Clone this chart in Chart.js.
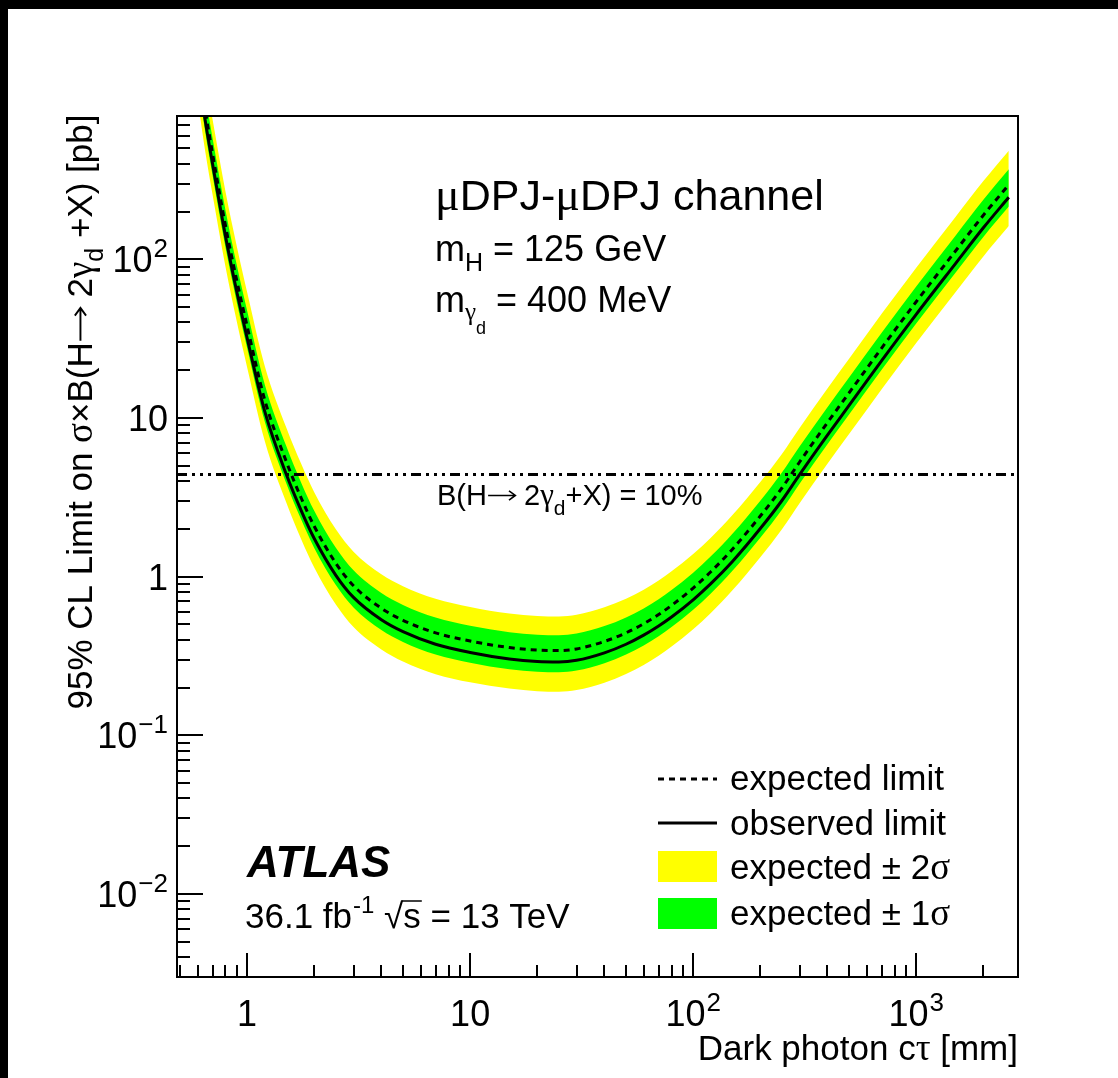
<!DOCTYPE html>
<html>
<head>
<meta charset="utf-8">
<script src="https://cdn.jsdelivr.net/npm/chart.js@4.4.1/dist/chart.umd.min.js"></script>
<style>
  html, body { margin: 0; padding: 0; background: #ffffff; }
  canvas { display: block; }
</style>
</head>
<body>
<canvas id="c" width="1118" height="1078"></canvas>
<script>
// Dark photon decay length (mm)
const ctau = [0.6, 0.65, 0.7, 0.8, 0.9, 1, 1.2, 1.5, 1.75, 2, 2.5, 3, 4, 5, 7, 10, 15, 20, 25, 30,
              40, 50, 60, 70, 80, 100, 120, 150, 200, 250, 300, 400, 500, 700, 1000, 1500, 2000, 2600];
// 95% CL upper limits on sigma x B (pb)
const observed = [1600, 740, 400, 140, 62, 32, 11, 4.4, 2.6, 1.74, 1.02, 0.74, 0.535, 0.45, 0.375, 0.333, 0.303, 0.292, 0.290, 0.297,
                  0.331, 0.375, 0.428, 0.489, 0.557, 0.715, 0.903, 1.247, 2.01, 3.02, 4.4, 7.8, 12, 23, 45, 94, 158, 246];
const expected = [1850, 860, 465, 163, 73, 38, 13, 5.3, 3.12, 2.08, 1.215, 0.877, 0.632, 0.531, 0.4425, 0.393, 0.3575, 0.3446, 0.3422, 0.3505,
                  0.3906, 0.4425, 0.505, 0.577, 0.659, 0.848, 1.074, 1.49, 2.41, 3.62, 5.28, 9.36, 14.4, 27.6, 54, 112.8, 189.6, 295];
const expPlus2 = [3034, 1410, 763, 267, 120, 62.3, 21.3, 8.69, 5.12, 3.41, 1.99, 1.438, 1.036, 0.871, 0.726, 0.645, 0.586, 0.565, 0.561, 0.575,
                  0.641, 0.726, 0.828, 0.946, 1.081, 1.391, 1.761, 2.444, 3.95, 5.94, 8.66, 15.35, 23.6, 45.3, 88.6, 185, 311, 484];
const expPlus1 = [2312, 1075, 581, 204, 91.3, 47.5, 16.25, 6.63, 3.9, 2.6, 1.519, 1.096, 0.79, 0.664, 0.553, 0.491, 0.447, 0.431, 0.428, 0.438,
                  0.488, 0.553, 0.631, 0.721, 0.824, 1.06, 1.343, 1.863, 3.01, 4.53, 6.6, 11.7, 18, 34.5, 67.5, 141, 237, 369];
const expMinus1 = [1350, 628, 339, 119, 53.3, 27.7, 9.49, 3.87, 2.28, 1.518, 0.887, 0.64, 0.461, 0.388, 0.323, 0.287, 0.261, 0.2516, 0.2498, 0.2559,
                   0.2851, 0.323, 0.3687, 0.421, 0.481, 0.619, 0.784, 1.088, 1.759, 2.643, 3.854, 6.83, 10.5, 20.1, 39.4, 82.3, 138.4, 215];
const expMinus2 = [1018, 473, 256, 89.7, 40.2, 20.9, 7.15, 2.92, 1.716, 1.144, 0.668, 0.482, 0.348, 0.292, 0.243, 0.216, 0.197, 0.1895, 0.1882, 0.1928,
                   0.2148, 0.2434, 0.2778, 0.3174, 0.3625, 0.466, 0.591, 0.82, 1.326, 1.991, 2.904, 5.15, 7.92, 15.2, 29.7, 62, 104.3, 162];
// sigma x B for B(H -> 2 gamma_d + X) = 10%
const refLimit = 4.4;

// axis ranges and tick labels
const xRange = [0.485, 2860];
const yRange = [0.003, 800];
const xMajorTicks = [1, 10, 100, 1000];
const xTickLabels = [['1', ''], ['10', ''], ['10', '2'], ['10', '3']];
const yMajorTicks = [0.01, 0.1, 1, 10, 100];
const yTickLabels = [['10', '\u22122'], ['10', '\u22121'], ['1', ''], ['10', ''], ['10', '2']];

const SANS = '"Liberation Sans", Arial, Helvetica, sans-serif';
const GREEK = '"Liberation Serif", "Times New Roman", serif';

const pts = ys => ctau.map((x, i) => ({ x: x, y: ys[i] }));

function fontOf(p) {
  return (p.style || 'normal') + ' ' + (p.weight || 'normal') + ' ' + p.size + 'px ' + (p.fam || SANS);
}
// draws a run of text pieces (sub/superscripts, symbol glyphs, arrows) starting at x
function rich(ctx, x, y, parts, align) {
  let w = 0;
  parts.forEach(p => {
    if (p.arrow) {
      p.w = p.size * 1.0;
    } else {
      ctx.font = fontOf(p);
      p.w = ctx.measureText(p.t).width + (p.dx || 0);
    }
    w += p.w;
  });
  let cx = align === 'right' ? x - w : (align === 'center' ? x - w / 2 : x);
  parts.forEach(p => {
    p.x0 = cx + (p.dx || 0);
    if (p.arrow) {
      const s = p.size, ay = y - s * 0.33;
      const x1 = cx + s * 0.04, x2 = cx + p.w - s * 0.02;
      ctx.save();
      ctx.lineWidth = Math.max(1.5, s * 0.055);
      ctx.lineCap = 'butt';
      ctx.beginPath();
      ctx.moveTo(x1, ay); ctx.lineTo(x2, ay);
      ctx.moveTo(x2 - s * 0.22, ay - s * 0.16); ctx.lineTo(x2, ay); ctx.lineTo(x2 - s * 0.22, ay + s * 0.16);
      ctx.stroke();
      ctx.restore();
    } else {
      ctx.font = fontOf(p);
      ctx.fillText(p.t, p.x0, y + (p.dy || 0));
    }
    cx += p.w;
  });
  return parts;
}

const axisDecor = {
  id: 'axisDecor',
  beforeDraw(chart) {
    const ctx = chart.ctx;
    ctx.save();
    ctx.fillStyle = '#000';
    ctx.fillRect(0, 0, chart.width, 9);
    ctx.fillRect(0, 0, 8, chart.height);
    ctx.restore();
  },
  afterDraw(chart) {
    const ctx = chart.ctx;
    const xs = chart.scales.x, ys = chart.scales.y;
    const a = chart.chartArea;
    ctx.save();
    ctx.fillStyle = '#000';
    ctx.strokeStyle = '#000';
    ctx.textBaseline = 'alphabetic';

    // frame
    ctx.lineWidth = 2;
    ctx.strokeRect(a.left, a.top, a.right - a.left, a.bottom - a.top);

    // x ticks
    for (let e = -1; e <= 3; e++) {
      for (let m = 1; m <= 9; m++) {
        const v = m * Math.pow(10, e);
        if (v < xRange[0] || v > xRange[1]) continue;
        const px = Math.round(xs.getPixelForValue(v));
        const len = m === 1 ? 24 : 12;
        ctx.beginPath();
        ctx.moveTo(px, a.bottom);
        ctx.lineTo(px, a.bottom - len);
        ctx.stroke();
      }
    }
    // y ticks
    for (let e = -3; e <= 2; e++) {
      for (let m = 1; m <= 9; m++) {
        const v = m * Math.pow(10, e);
        if (v < yRange[0] || v > yRange[1]) continue;
        const py = Math.round(ys.getPixelForValue(v));
        const len = m === 1 ? 26 : 13;
        ctx.beginPath();
        ctx.moveTo(a.left, py);
        ctx.lineTo(a.left + len, py);
        ctx.stroke();
      }
    }

    // x tick labels
    xMajorTicks.forEach((v, i) => {
      const px = xs.getPixelForValue(v);
      const lab = xTickLabels[i];
      const parts = [{ t: lab[0], size: 36 }];
      if (lab[1]) parts.push({ t: lab[1], size: 26, dy: -15, dx: 1 });
      rich(ctx, px, 1026, parts, 'center');
    });
    // y tick labels
    yMajorTicks.forEach((v, i) => {
      const py = ys.getPixelForValue(v);
      const lab = yTickLabels[i];
      const parts = [{ t: lab[0], size: 36 }];
      if (lab[1]) parts.push({ t: lab[1], size: 26, dy: -15, dx: 1 });
      rich(ctx, 168, py + 13, parts, 'right');
    });

    // x axis title
    rich(ctx, 1018, 1060, [
      { t: 'Dark photon c', size: 35 },
      { t: '\u03c4', size: 37, fam: GREEK },
      { t: ' [mm]', size: 35 }
    ], 'right');

    // y axis title
    ctx.save();
    ctx.translate(92, 412);
    ctx.rotate(-Math.PI / 2);
    rich(ctx, 0, 0, [
      { t: '95% CL Limit on ', size: 35 },
      { t: '\u03c3', size: 37, fam: GREEK },
      { t: '\u00d7', size: 35 },
      { t: 'B(H', size: 35 },
      { arrow: true, size: 35 },
      { t: ' 2', size: 35 },
      { t: '\u03b3', size: 37, fam: GREEK },
      { t: 'd', size: 25, dy: 11 },
      { t: ' +X) [pb]', size: 35 }
    ], 'center');
    ctx.restore();

    // channel and mass labels
    rich(ctx, 435, 210, [
      { t: '\u03bc', size: 46, fam: GREEK },
      { t: 'DPJ-', size: 43 },
      { t: '\u03bc', size: 46, fam: GREEK },
      { t: 'DPJ channel', size: 43 }
    ], 'left');
    rich(ctx, 435, 261, [
      { t: 'm', size: 36 },
      { t: 'H', size: 25, dy: 10 },
      { t: ' = 125 GeV', size: 36 }
    ], 'left');
    rich(ctx, 435, 312, [
      { t: 'm', size: 36 },
      { t: '\u03b3', size: 25, dy: 8, fam: GREEK },
      { t: 'd', size: 18, dy: 22 },
      { t: ' = 400 MeV', size: 36 }
    ], 'left');

    // reference line label
    rich(ctx, 437, 505, [
      { t: 'B(H', size: 29 },
      { arrow: true, size: 29 },
      { t: ' 2', size: 29 },
      { t: '\u03b3', size: 31, fam: GREEK },
      { t: 'd', size: 21, dy: 10 },
      { t: '+X) = 10%', size: 29 }
    ], 'left');

    // ATLAS label
    rich(ctx, 247, 877, [{ t: 'ATLAS', size: 44, weight: 'bold', style: 'italic' }], 'left');
    const lum = rich(ctx, 245, 928, [
      { t: '36.1 fb', size: 35 },
      { t: '-1', size: 24, dy: -15, dx: 1 },
      { t: ' ', size: 35 },
      { t: '\u221a', size: 35 },
      { t: 's', size: 35 },
      { t: ' = 13 TeV', size: 35 }
    ], 'left');
    // overline of the square root
    ctx.lineWidth = 1.5;
    ctx.beginPath();
    ctx.moveTo(lum[3].x0 + lum[3].w - 2, 901);
    ctx.lineTo(lum[4].x0 + lum[4].w + 1, 901);
    ctx.stroke();

    // legend
    const lx0 = 658, lx1 = 717, tx = 730;
    ctx.lineWidth = 3;
    ctx.setLineDash([6, 5]);
    ctx.beginPath(); ctx.moveTo(lx0, 779); ctx.lineTo(lx1, 779); ctx.stroke();
    ctx.setLineDash([]);
    ctx.beginPath(); ctx.moveTo(lx0, 823); ctx.lineTo(lx1, 823); ctx.stroke();
    ctx.fillStyle = '#ffff00';
    ctx.fillRect(lx0, 851, lx1 - lx0, 31);
    ctx.fillStyle = '#00ff00';
    ctx.fillRect(lx0, 898, lx1 - lx0, 31);
    ctx.fillStyle = '#000';
    rich(ctx, tx, 790, [{ t: 'expected limit', size: 35 }], 'left');
    rich(ctx, tx, 835, [{ t: 'observed limit', size: 35 }], 'left');
    rich(ctx, tx, 879, [{ t: 'expected \u00b1 2', size: 35 }, { t: '\u03c3', size: 37, fam: GREEK }], 'left');
    rich(ctx, tx, 925, [{ t: 'expected \u00b1 1', size: 35 }, { t: '\u03c3', size: 37, fam: GREEK }], 'left');

    ctx.restore();
  }
};

const common = { pointRadius: 0, cubicInterpolationMode: 'monotone', clip: 0 };

new Chart(document.getElementById('c'), {
  type: 'line',
  data: {
    datasets: [
      Object.assign({ label: 'expected +2 sigma', data: pts(expPlus2), borderWidth: 0, backgroundColor: '#ffff00', fill: { target: 1 }, order: 5 }, common),
      Object.assign({ label: 'expected -2 sigma', data: pts(expMinus2), borderWidth: 0, fill: false, order: 5 }, common),
      Object.assign({ label: 'expected +1 sigma', data: pts(expPlus1), borderWidth: 0, backgroundColor: '#00ff00', fill: { target: 3 }, order: 4 }, common),
      Object.assign({ label: 'expected -1 sigma', data: pts(expMinus1), borderWidth: 0, fill: false, order: 4 }, common),
      Object.assign({ label: 'expected limit', data: pts(expected), borderColor: '#000', borderWidth: 3, borderDash: [6, 5], fill: false, order: 3 }, common),
      Object.assign({ label: 'observed limit', data: pts(observed), borderColor: '#000', borderWidth: 3, fill: false, order: 2 }, common),
      { label: 'B = 10%', data: [{ x: xRange[0], y: refLimit }, { x: xRange[1], y: refLimit }],
        borderColor: '#000', borderWidth: 3, borderDash: [10, 5, 3, 5, 3, 5, 3, 5], pointRadius: 0, fill: false, order: 1, clip: 0 }
    ]
  },
  options: {
    responsive: false,
    animation: false,
    events: [],
    layout: { padding: { left: 177, top: 116, right: 100, bottom: 101 } },
    scales: {
      x: { type: 'logarithmic', min: xRange[0], max: xRange[1], display: false },
      y: { type: 'logarithmic', min: yRange[0], max: yRange[1], display: false }
    },
    plugins: { legend: { display: false }, tooltip: { enabled: false } }
  },
  plugins: [axisDecor]
});
</script>
</body>
</html>
